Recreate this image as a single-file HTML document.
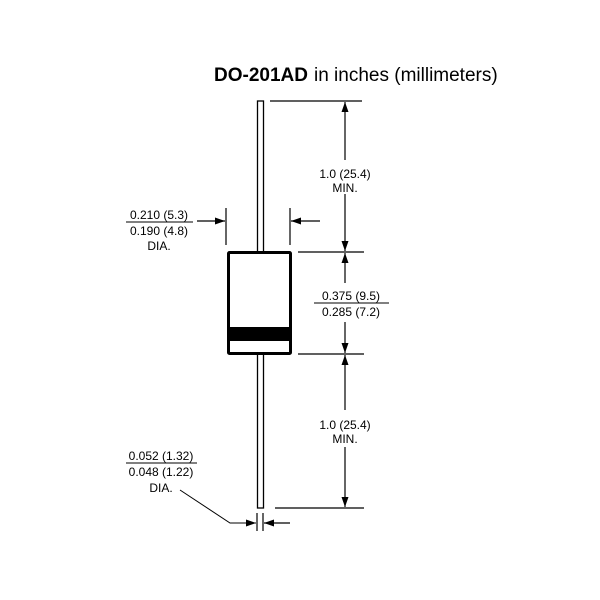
<!DOCTYPE html>
<html><head><meta charset="utf-8"><style>
html,body{margin:0;padding:0;background:#fff;}
svg{display:block;font-family:"Liberation Sans",Arial,sans-serif;}
</style></head><body>
<svg width="600" height="600" viewBox="0 0 600 600" xmlns="http://www.w3.org/2000/svg">
<defs>
<marker id="a" viewBox="0 0 10 10" refX="10" refY="5" markerWidth="10" markerHeight="10" markerUnits="userSpaceOnUse" orient="auto"><path d="M0,1.5 L10,5 L0,8.5 Z" fill="#000"/></marker>
</defs>
<text x="214" y="81" font-size="19" fill="#000"><tspan font-weight="bold">DO-201AD</tspan><tspan dx="6">in inches (millimeters)</tspan></text>
<g stroke="#000" fill="none">
<rect x="257.5" y="101" width="6" height="151" stroke-width="1.3"/>
<rect x="257.5" y="354" width="6" height="154" stroke-width="1.3"/>
<rect x="228.5" y="252.5" width="62" height="101" stroke-width="3" fill="#fff" rx="1"/>
<rect x="229" y="327" width="61" height="14" fill="#000" stroke="none"/>
<line x1="270" y1="101" x2="362" y2="101" stroke-width="1.2"/>
<line x1="298" y1="252" x2="364" y2="252" stroke-width="1.2"/>
<line x1="298" y1="354" x2="364" y2="354" stroke-width="1.2"/>
<line x1="275" y1="508" x2="364" y2="508" stroke-width="1.2"/>
<line x1="345" y1="160" x2="345" y2="102" stroke-width="1.2" marker-end="url(#a)"/>
<line x1="345" y1="194" x2="345" y2="251" stroke-width="1.2" marker-end="url(#a)"/>
<line x1="345" y1="283" x2="345" y2="253" stroke-width="1.2" marker-end="url(#a)"/>
<line x1="345" y1="322" x2="345" y2="353" stroke-width="1.2" marker-end="url(#a)"/>
<line x1="345" y1="410" x2="345" y2="355" stroke-width="1.2" marker-end="url(#a)"/>
<line x1="345" y1="447" x2="345" y2="507" stroke-width="1.2" marker-end="url(#a)"/>
<line x1="226" y1="208" x2="226" y2="245" stroke-width="1.2"/>
<line x1="290" y1="208" x2="290" y2="245" stroke-width="1.2"/>
<line x1="197" y1="221" x2="225" y2="221" stroke-width="1.2" marker-end="url(#a)"/>
<line x1="320" y1="221" x2="291" y2="221" stroke-width="1.2" marker-end="url(#a)"/>
<line x1="257" y1="513" x2="257" y2="531" stroke-width="1.2"/>
<line x1="263" y1="513" x2="263" y2="531" stroke-width="1.2"/>
<polyline points="180,490 230,523 256,523" stroke-width="1" marker-end="url(#a)"/>
<line x1="290" y1="523" x2="264" y2="523" stroke-width="1.2" marker-end="url(#a)"/>
<line x1="126" y1="222" x2="193" y2="222" stroke-width="1"/>
<line x1="314" y1="303" x2="389" y2="303" stroke-width="1"/>
<line x1="126" y1="463" x2="197" y2="463" stroke-width="1"/>
</g>
<g font-size="12" fill="#000" text-anchor="middle">
<text x="345" y="178">1.0 (25.4)</text>
<text x="345" y="192">MIN.</text>
<text x="159" y="219">0.210 (5.3)</text>
<text x="159" y="235">0.190 (4.8)</text>
<text x="159" y="250">DIA.</text>
<text x="351" y="300">0.375 (9.5)</text>
<text x="351" y="316">0.285 (7.2)</text>
<text x="345" y="429">1.0 (25.4)</text>
<text x="345" y="443">MIN.</text>
<text x="161" y="460">0.052 (1.32)</text>
<text x="161" y="476">0.048 (1.22)</text>
<text x="161" y="492">DIA.</text>
</g>
</svg>
</body></html>
